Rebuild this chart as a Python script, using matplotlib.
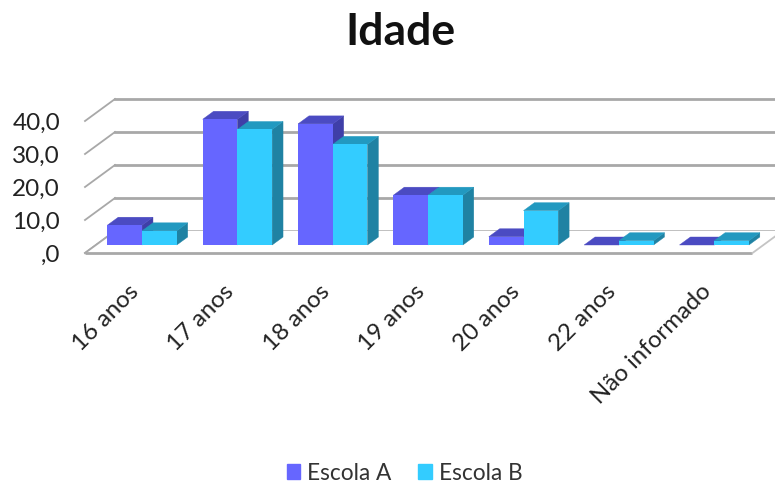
import matplotlib
matplotlib.use("Agg")
import matplotlib.pyplot as plt
from matplotlib.patches import Patch

plt.rcParams['font.family'] = ['Lato', 'DejaVu Sans']

categories = ['16 anos', '17 anos', '18 anos', '19 anos', '20 anos', '22 anos', 'Não informado']
escola_a = [6.0, 38.1, 36.7, 15.1, 2.5, 0.0, 0.0]
escola_b = [4.3, 35.0, 30.5, 15.1, 10.4, 1.3, 1.3]
yticks = [0, 10, 20, 30, 40]
yticklabels = [',0', '10,0', '20,0', '30,0', '40,0']

W, H = 775, 483
# floor front edge runs 85..752 px at y=253, value 10 = 33 px
fig = plt.figure(figsize=(W / 100, H / 100), dpi=100, facecolor='white')
ax = fig.add_axes([85 / W, (H - 253) / H, 667.5 / W, 132 / H])
ax.set_xlim(0, 7)
ax.set_ylim(0, 40)
for s in ax.spines.values():
    s.set_visible(False)

# depth in the fake 3d: full depth of the floor, in data units
px_x = 7 / 667.5
px_y = 40 / 132
DX = 30 * px_x
DY = 22 * px_y


def proj(x, y, d):
    return x + d * DX, y + d * DY


def face(pts, color, z):
    ax.fill([p[0] for p in pts], [p[1] for p in pts], color=color, lw=0.3,
            clip_on=False, zorder=z)


# wall gridlines and floor
GRID = '#a8a8a8'
for v in yticks:
    x0, y0 = proj(0, v, 0)
    x1, y1 = proj(0, v, 1)
    ax.plot([x0, x1], [y0, y1], color=GRID, lw=1.3, clip_on=False, zorder=1)
    ax.plot([x1, 7 + DX], [y1, y1], color=GRID, lw=2.0, clip_on=False, zorder=1)
face([proj(0, 0, 0), proj(7, 0, 0), proj(7, 0, 1), proj(0, 0, 1)], 'white', 1.5)
ax.plot([0, 7], [0, 0], color=GRID, lw=2.0, clip_on=False, zorder=2,
        solid_capstyle='butt')
ax.plot([7, 7 + DX], [0, DY], color='#c4c4c4', lw=1.3, clip_on=False, zorder=2)
ax.plot([0, DX], [0, DY], color=GRID, lw=1.3, clip_on=False, zorder=2)

# bars: front face at depth d0, back at d1
d0, d1 = 0.364, 0.727
bw = 0.364
colors_a = ('#6666ff', '#4b4bc2', '#3f3fa8')
colors_b = ('#33ccff', '#2299c0', '#1f82a3')

z = 3
for i in range(len(categories)):
    c = i + 0.5 - 0.016
    for left, val, cols in ((c - bw, escola_a[i], colors_a), (c, escola_b[i], colors_b)):
        right = left + bw
        # side
        face([proj(right, 0, d0), proj(right, 0, d1), proj(right, val, d1), proj(right, val, d0)], cols[2], z)
        # top
        face([proj(left, val, d0), proj(right, val, d0), proj(right, val, d1), proj(left, val, d1)], cols[1], z + 0.1)
        # front
        fx, fy = proj(left, 0, d0)
        ax.bar(fx, val, bw, bottom=fy, align='edge', color=cols[0], clip_on=False, zorder=z + 0.2)
        z += 1

ax.set_xticks([i + 0.45 for i in range(len(categories))])
ax.set_xticklabels(categories, rotation=45, ha='right', rotation_mode='anchor',
                   fontsize=17.3, color='#222222')
ax.set_yticks(yticks)
ax.set_yticklabels(yticklabels, fontsize=17.5, color='#222222')
ax.tick_params(axis='both', length=0)
ax.tick_params(axis='x', pad=20)
ax.tick_params(axis='y', pad=18)

fig.text(400 / W, 1 - 32 / H, 'Idade', fontsize=32, fontweight='bold', ha='center',
         va='center', color='#111111')

fig.legend(handles=[Patch(color=colors_a[0], label='Escola A'),
                    Patch(color=colors_b[0], label='Escola B')],
           loc='center', bbox_to_anchor=(404.5 / W, 1 - 473 / H), ncol=2, frameon=False,
           fontsize=16.3, handlelength=0.6, handleheight=0.6, handletextpad=0.3,
           columnspacing=1.2, labelcolor='#333333')

fig.savefig('out.png', dpi=100)
